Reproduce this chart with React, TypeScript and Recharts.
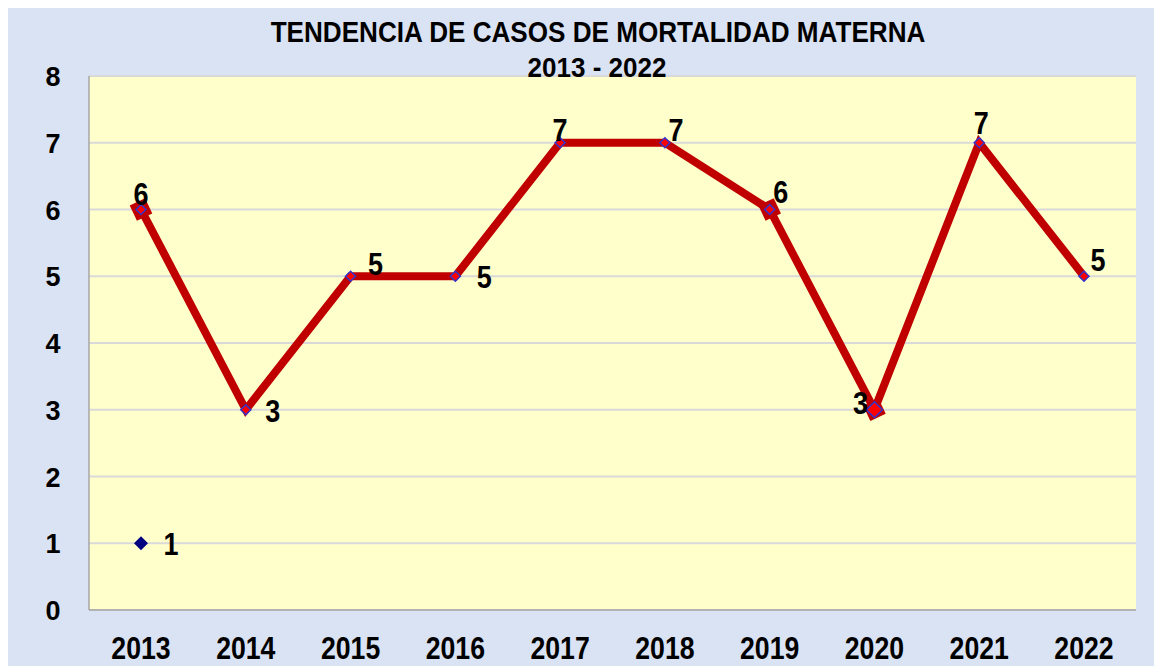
import React from "react";
import {
  LineChart,
  Line,
  XAxis,
  YAxis,
  CartesianGrid,
} from "recharts";

const years = ["2013", "2014", "2015", "2016", "2017", "2018", "2019", "2020", "2021", "2022"];
const casos = [6, 3, 5, 5, 7, 7, 6, 3, 7, 5];
const serieUno = [1, null, null, null, null, null, null, null, null, null];
const yTicks = [0, 1, 2, 3, 4, 5, 6, 7, 8];

// offsets for the data labels, as Excel placed them
const labelOffsets: [number, number][] = [
  [0, -15], [27, 2], [25, -12], [29, 1], [0, -12],
  [11, -12], [11, -17], [-14, -6], [2, -19], [14, -16],
];
const bigMarkers = ["2013", "2019", "2020"];

const data = years.map((y, i) => ({ year: y, casos: casos[i], uno: serieUno[i] }));

const FONT = "'Liberation Sans', Arial, sans-serif";

// bold text squeezed horizontally, like Arial Narrow in the original
function NText({ x, y, size, sx = 0.87, children }: any) {
  return (
    <text
      transform={`translate(${x} ${y}) scale(${sx} 1)`}
      textAnchor="middle"
      dominantBaseline="central"
      fontFamily={FONT}
      fontWeight="bold"
      fontSize={size}
      fill="#000"
    >
      {children}
    </text>
  );
}

function diamond(cx: number, cy: number, r: number) {
  return `M${cx},${cy - r} L${cx + r},${cy} L${cx},${cy + r} L${cx - r},${cy} Z`;
}

function CasosDot(props: any) {
  const { cx, cy, payload } = props;
  if (cx == null || cy == null) return null;
  const big = bigMarkers.includes(payload.year);
  const inner = payload.year === "2020" ? 8 : 5;
  return (
    <g>
      {big && (
        <path d={diamond(cx, cy, 12)} fill="#c00000" transform={`rotate(20 ${cx} ${cy})`} />
      )}
      <path d={diamond(cx, cy, inner)} fill="#ff0000" stroke="#3333cc" strokeWidth={1.5} />
    </g>
  );
}

function UnoDot(props: any) {
  const { cx, cy, value } = props;
  if (cx == null || cy == null || value == null) return null;
  return <path d={diamond(cx, cy, 7)} fill="#000080" />;
}

function CasosLabel(props: any) {
  const { x, y, value, index } = props;
  const [dx, dy] = labelOffsets[index] || [0, -14];
  return (
    <NText x={x + dx} y={y + dy} size={31}>
      {value}
    </NText>
  );
}

function UnoLabel(props: any) {
  const { x, y, value } = props;
  if (value == null) return null;
  return (
    <NText x={x + 30} y={y + 1} size={31}>
      {value}
    </NText>
  );
}

function XTick(props: any) {
  const { x, y, payload } = props;
  return (
    <NText x={x} y={y + 38} size={31} sx={0.86}>
      {payload.value}
    </NText>
  );
}

function YTick(props: any) {
  const { x, y, payload } = props;
  return (
    <NText x={x - 36} y={y + 1} size={27} sx={1}>
      {payload.value}
    </NText>
  );
}

export default function App() {
  return (
    <div style={{ position: "relative", width: 1154, height: 658, background: "#dae3f3" }}>
      <LineChart
        width={1154}
        height={658}
        data={data}
        margin={{ top: 68, right: 26, bottom: 0, left: 0 }}
        style={{ position: "absolute", left: 0, top: 0 }}
      >
        <CartesianGrid vertical={false} stroke="#d9d9d9" strokeWidth={2} fill="#ffffcc" />
        <XAxis
          dataKey="year"
          padding={{ left: 52, right: 52 }}
          height={56}
          tickLine={false}
          tickSize={0}
          tickMargin={0}
          axisLine={{ stroke: "#a6a6a6", strokeWidth: 1.5 }}
          tick={<XTick />}
          interval={0}
        />
        <YAxis
          domain={[0, 8]}
          ticks={yTicks}
          width={81}
          tickLine={false}
          tickSize={0}
          tickMargin={0}
          axisLine={{ stroke: "#a6a6a6", strokeWidth: 1.5 }}
          tick={<YTick />}
          interval={0}
        />
        <YAxis
          yAxisId="borde"
          orientation="right"
          width={0}
          tick={false}
          tickLine={false}
          axisLine={{ stroke: "#b4bccc", strokeWidth: 1.5 }}
        />
        <Line
          dataKey="casos"
          stroke="#c00000"
          strokeWidth={8}
          strokeLinejoin="miter"
          dot={<CasosDot />}
          activeDot={false}
          label={<CasosLabel />}
          isAnimationActive={false}
        />
        <Line
          dataKey="uno"
          stroke="none"
          dot={<UnoDot />}
          activeDot={false}
          label={<UnoLabel />}
          isAnimationActive={false}
        />
      </LineChart>
      <svg
        width={1154}
        height={90}
        style={{ position: "absolute", left: 0, top: 0, pointerEvents: "none" }}
      >
        <NText x={590} y={24} size={29} sx={0.9}>
          TENDENCIA DE CASOS DE MORTALIDAD MATERNA
        </NText>
        <NText x={589} y={60} size={28} sx={0.93}>
          2013 - 2022
        </NText>
      </svg>
    </div>
  );
}
